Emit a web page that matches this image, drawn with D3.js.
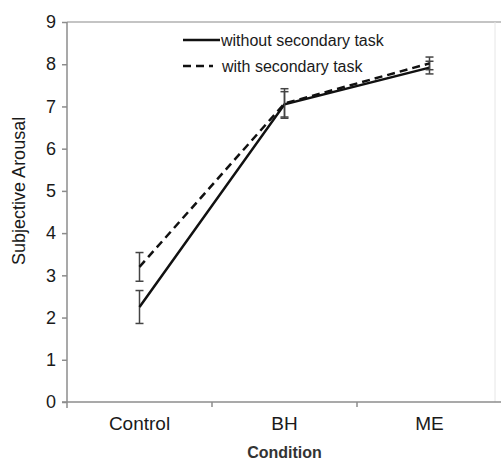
<!DOCTYPE html>
<html>
<head>
<meta charset="utf-8">
<script src="https://cdn.jsdelivr.net/npm/d3@7"></script>
<style>
  body { margin: 0; background: #fff; }
  svg { font-family: "Liberation Sans", Arial, sans-serif; }
</style>
</head>
<body>
<div id="chart"></div>
<script>
var conditions = ["Control", "BH", "ME"];
var withoutTask = [2.25, 7.05, 7.92];
var withoutErr = [0.39, 0.3, 0.15];
var withTask = [3.2, 7.07, 8.02];
var withErr = [0.34, 0.35, 0.15];
var yTicks = [0, 1, 2, 3, 4, 5, 6, 7, 8, 9];

var width = 501, height = 461;
var margin = {top: 22, right: -1, bottom: 59, left: 67};

var svg = d3.select("#chart").append("svg")
  .attr("width", width)
  .attr("height", height);

var x = d3.scaleBand().domain(conditions).range([margin.left, width - margin.right]);
var y = d3.scaleLinear().domain([0, 9]).range([height - margin.bottom, margin.top]);

var series = [
  {name: "without secondary task", vals: withoutTask, err: withoutErr, dash: null},
  {name: "with secondary task", vals: withTask, err: withErr, dash: "8,5"}
];

// frame lines (top + faint right)
svg.append("line")
  .attr("x1", margin.left).attr("x2", width)
  .attr("y1", y(9)).attr("y2", y(9))
  .attr("stroke", "#b0b0b0").attr("stroke-width", 1.5);
svg.append("line")
  .attr("x1", 495).attr("x2", 495)
  .attr("y1", y(9)).attr("y2", y(0))
  .attr("stroke", "#e6e6e6").attr("stroke-width", 1);

// y axis
var yAxis = svg.append("g")
  .attr("transform", "translate(" + margin.left + ",0)")
  .call(d3.axisLeft(y).tickValues(yTicks).tickSize(5).tickPadding(6));
yAxis.select(".domain").remove();
yAxis.append("line")
  .attr("x1", 0).attr("x2", 0)
  .attr("y1", y(9)).attr("y2", y(0) + 6)
  .attr("stroke", "#8c8c8c").attr("stroke-width", 1.5);
yAxis.selectAll(".tick line").attr("stroke", "#8c8c8c").attr("stroke-width", 1.5);
yAxis.selectAll(".tick text")
  .attr("fill", "#1a1a1a")
  .style("font-size", "18px");

// x axis
var xAxis = svg.append("g")
  .attr("transform", "translate(0," + y(0) + ")")
  .call(d3.axisBottom(x).tickSize(0).tickPadding(15));
xAxis.select(".domain").remove();
xAxis.append("line")
  .attr("x1", margin.left - 5).attr("x2", width)
  .attr("y1", 0).attr("y2", 0)
  .attr("stroke", "#8c8c8c").attr("stroke-width", 1.5);
xAxis.selectAll(".sep")
  .data(conditions.slice(1))
  .enter().append("line")
  .attr("class", "sep")
  .attr("x1", function(d) { return x(d); })
  .attr("x2", function(d) { return x(d); })
  .attr("y1", 0).attr("y2", 5)
  .attr("stroke", "#8c8c8c").attr("stroke-width", 1.5);
xAxis.selectAll(".tick text")
  .attr("fill", "#1a1a1a")
  .style("font-size", "19px");

// axis titles
svg.append("text")
  .attr("transform", "translate(25," + y(5) + ") rotate(-90)")
  .attr("text-anchor", "middle")
  .attr("fill", "#1a1a1a")
  .style("font-size", "18px")
  .text("Subjective Arousal");
svg.append("text")
  .attr("x", x("BH") + x.bandwidth() / 2)
  .attr("y", 458)
  .attr("text-anchor", "middle")
  .attr("fill", "#333")
  .style("font-size", "16px")
  .style("font-weight", "bold")
  .text("Condition");

var cx = function(i) { return x(conditions[i]) + x.bandwidth() / 2; };

var line = d3.line()
  .x(function(d, i) { return cx(i); })
  .y(function(d) { return y(d); });

series.forEach(function(s) {
  // error bars
  var eb = svg.append("g");
  s.vals.forEach(function(v, i) {
    var lo = y(v - s.err[i]), hi = y(v + s.err[i]), xc = cx(i);
    eb.append("line").attr("x1", xc).attr("x2", xc).attr("y1", lo).attr("y2", hi)
      .attr("stroke", "#444").attr("stroke-width", 1.5);
    [lo, hi].forEach(function(yy) {
      eb.append("line").attr("x1", xc - 4).attr("x2", xc + 4).attr("y1", yy).attr("y2", yy)
        .attr("stroke", "#444").attr("stroke-width", 1.5);
    });
  });
  svg.append("path")
    .datum(s.vals)
    .attr("d", line)
    .attr("fill", "none")
    .attr("stroke", "#111")
    .attr("stroke-width", 2.5)
    .attr("stroke-dasharray", s.dash);
});

// legend
var legend = svg.append("g").attr("transform", "translate(183,40)");
series.forEach(function(s, i) {
  var g = legend.append("g").attr("transform", "translate(0," + (i * 26) + ")");
  g.append("line")
    .attr("x1", 0).attr("x2", s.dash ? 30 : 37)
    .attr("y1", 0).attr("y2", 0)
    .attr("stroke", "#111").attr("stroke-width", 2.5)
    .attr("stroke-dasharray", s.dash);
  g.append("text")
    .attr("x", s.dash ? 39 : 38)
    .attr("y", 0)
    .attr("dy", "0.35em")
    .attr("fill", "#1a1a1a")
    .style("font-size", "16px")
    .text(s.name);
});
</script>
</body>
</html>
